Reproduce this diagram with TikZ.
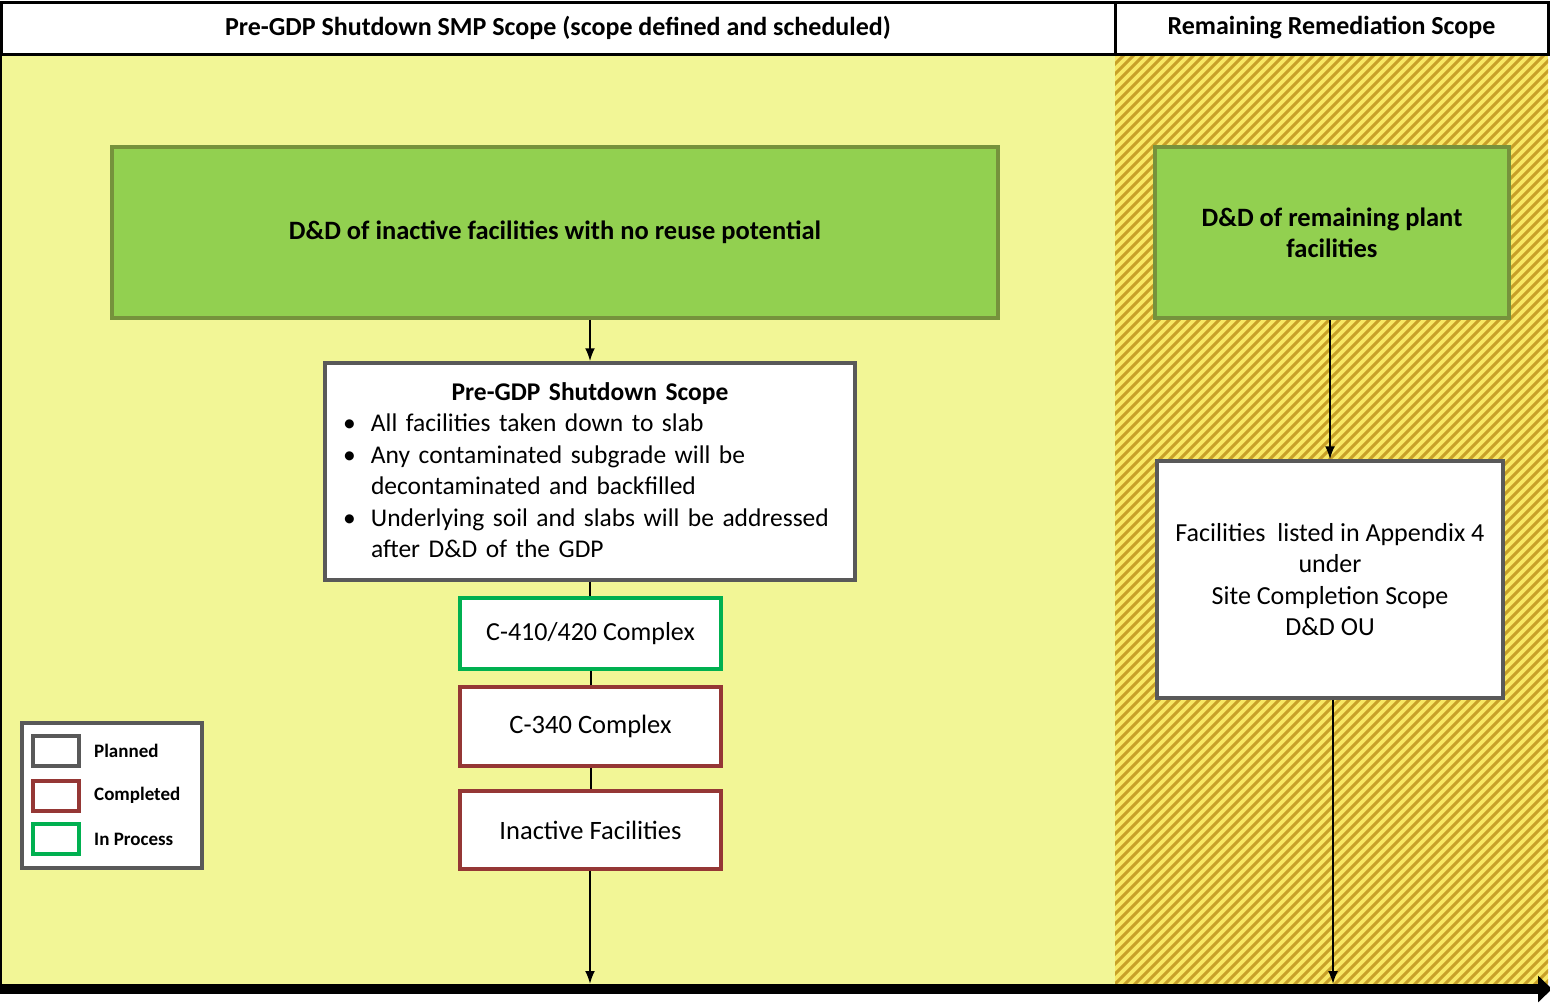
\documentclass[tikz,border=0pt]{standalone}
\usepackage{fontspec}
\setmainfont{Carlito}
\usetikzlibrary{arrows.meta}
\definecolor{bgyellow}{RGB}{242,246,150}
\definecolor{hatchbase}{RGB}{248,232,100}
\definecolor{hatchline}{RGB}{200,160,40}
\definecolor{boxgreen}{RGB}{146,208,80}
\definecolor{boxgreenline}{RGB}{118,146,60}
\definecolor{plangray}{RGB}{89,89,89}
\definecolor{donered}{RGB}{149,55,53}
\definecolor{procgreen}{RGB}{0,176,80}
\tikzset{
  hdr/.style={draw=black, line width=3pt, fill=white, font=\fontsize{26}{30}\selectfont\bfseries},
  greenbox/.style={draw=boxgreenline, line width=3.5pt, fill=boxgreen, align=center, font=\fontsize{26.5}{31}\selectfont\bfseries},
  plainbox/.style={draw=plangray, line width=3.5pt, fill=white, align=center, font=\fontsize{26}{31.6}\selectfont},
  redbox/.style={draw=donered, line width=3.5pt, fill=white, font=\fontsize{26.5}{30}\selectfont},
  procbox/.style={draw=procgreen, line width=3.5pt, fill=white, font=\fontsize{26}{30}\selectfont},
  swatch/.style={draw=#1, line width=4pt, fill=white, minimum width=46pt, minimum height=30pt, inner sep=0pt},
  legtext/.style={anchor=west, inner sep=0pt, font=\fontsize{19}{22}\selectfont\bfseries},
  conn/.style={draw=black, line width=2pt},
  arr/.style={conn, -{Latex[length=13pt,width=10pt]}},
}
\begin{document}
\begin{tikzpicture}[x=1pt,y=-1pt]
\useasboundingbox (0,0) rectangle (1550,1002);
\fill[white] (0,0) rectangle (1550,1002);
% backgrounds
\fill[bgyellow] (0,54) rectangle (1115,985);
\begin{scope}
  \clip (1115,54) rectangle (1548,985);
  \fill[hatchbase] (1115,54) rectangle (1548,985);
  \foreach \i in {0,...,138} {
    \draw[hatchline, line width=3pt] ({184+\i*10},985) -- ++(931,-931);
  }
\end{scope}
\draw[line width=2.5pt] (1,54) -- (1,985);
% header
\node[hdr, minimum width=1114pt, minimum height=52pt] (hdrL) at (558,28) {\raisebox{-2pt}{Pre-GDP Shutdown SMP Scope (scope defined and scheduled)}};
\node[hdr, minimum width=433pt, minimum height=52pt] (hdrR) at (1331.5,28) {\raisebox{-2pt}{Remaining Remediation Scope}};
% bottom bar
\coordinate (bar0) at (0,989);
\coordinate (bar1) at (1552,989);
\draw[line width=10pt, -{Triangle[length=14pt,width=26pt]}] (bar0) -- (bar1);
\coordinate (barL) at (590,984);
\coordinate (barR) at (1333,984);
% left column
\node[greenbox, minimum width=886pt, minimum height=171pt] (top) at (555,232.5) {D\&D of inactive facilities with no reuse potential};
\node[plainbox, minimum width=530pt, minimum height=217pt] (pre) at (590,471.5) {};
\node[anchor=north, inner sep=0pt, text width=500pt, align=left, font=\fontsize{25.5}{31.5}\selectfont] (pretext) at (590,382) {%
{\centering\bfseries Pre-GDP Shutdown Scope\par}
\hangindent=31pt\hangafter=1\makebox[31pt][l]{\hspace{3pt}\textbullet}All facilities taken down to slab\par
\hangindent=31pt\hangafter=1\makebox[31pt][l]{\hspace{3pt}\textbullet}Any contaminated subgrade will be\newline decontaminated and backfilled\par
\hangindent=31pt\hangafter=1\makebox[31pt][l]{\hspace{3pt}\textbullet}Underlying soil and slabs will be addressed\newline after D\&D of the GDP\par};
\node[procbox, minimum width=261pt, minimum height=71pt] (c410) at (590.5,633.5) {C-410/420 Complex};
\node[redbox, minimum width=261pt, minimum height=79pt] (c340) at (590.5,726.5) {C-340 Complex};
\node[redbox, minimum width=261pt, minimum height=78pt] (inact) at (590.5,830) {Inactive Facilities};
% right column
\node[greenbox, minimum width=354pt, minimum height=171pt] (rem) at (1332,232.5) {D\&D of remaining plant\\facilities};
\node[plainbox, minimum width=346pt, minimum height=237pt] (fac) at (1330,579.5) {Facilities\ \ listed in Appendix 4\\under\\Site Completion Scope\\D\&D OU};
% legend
\node[draw=plangray, line width=4pt, fill=white, minimum width=180pt, minimum height=145pt] (leg) at (112,795.5) {};
\node[swatch=plangray] (sw1) at (56,751) {};
\node[swatch=donered] (sw2) at (56,795.5) {};
\node[swatch=procgreen] (sw3) at (56,839) {};
\node[legtext] (lt1) at (94,751) {Planned};
\node[legtext] (lt2) at (94,795.5) {Completed};
\node[legtext] (lt3) at (94,839) {In Process};
% connectors
\draw[arr] (top.south -| pre.north) -- (pre.north);
\draw[conn] (pre.south) -- (c410.north -| pre.south);
\draw[conn] (c410.south) -- (c340.north);
\draw[conn] (c340.south) -- (inact.north);
\draw[arr] (inact.south -| barL) -- (barL);
\draw[arr] (rem.south -| fac.north) -- (fac.north);
\draw[arr] (fac.south -| barR) -- (barR);
\end{tikzpicture}
\end{document}
